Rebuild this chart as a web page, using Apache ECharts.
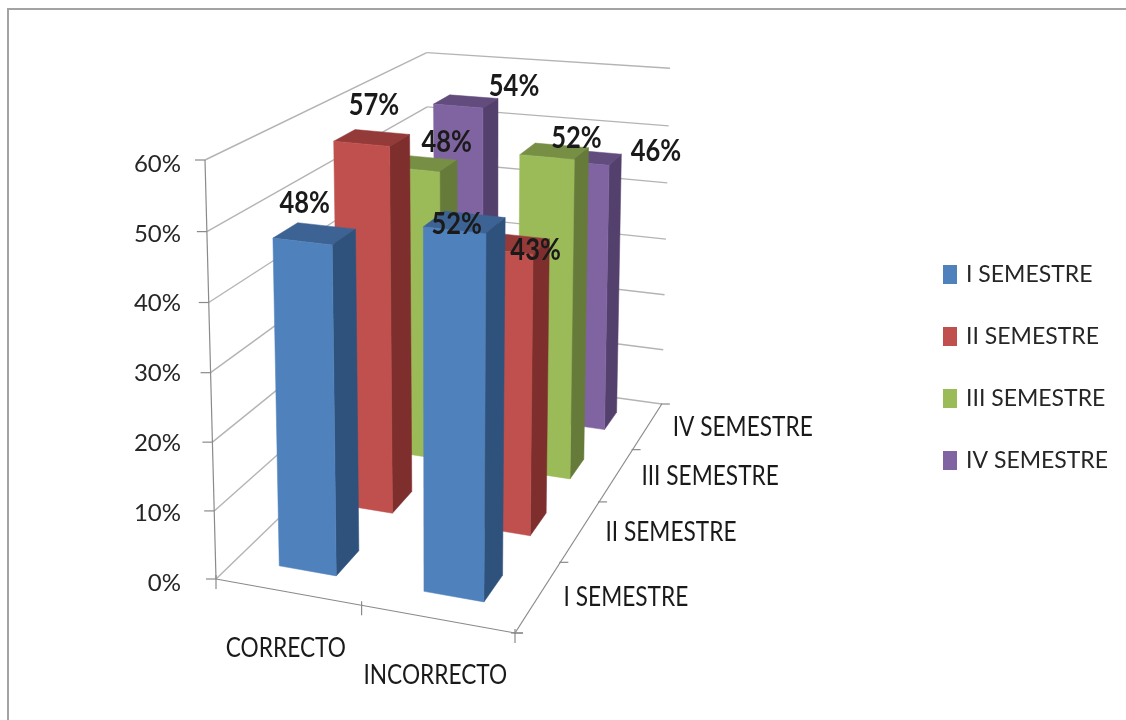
<!DOCTYPE html>
<html><head><meta charset="utf-8">
<style>html,body{margin:0;background:#fff}#main{width:1126px;height:720px;filter:blur(0.5px)}</style>
<script src="https://cdn.jsdelivr.net/npm/echarts@6/dist/echarts.min.js"></script>
</head><body><div id="main"></div>
<script>
// ---- data ----
const categories = ['CORRECTO', 'INCORRECTO'];
const semesters = ['I SEMESTRE', 'II SEMESTRE', 'III SEMESTRE', 'IV SEMESTRE'];
const semI = [48, 52];
const semII = [57, 43];
const semIII = [48, 52];
const semIV = [54, 46];
const valueTicks = [0, 10, 20, 30, 40, 50, 60];
const seriesValues = [semI, semII, semIII, semIV];

// ---- style ----
const palette = [
  {front:'#4F81BD', side:'#2F527C', top:'#3C6393'},
  {front:'#C0504D', side:'#7E2F2D', top:'#943B39'},
  {front:'#9BBB59', side:'#667B3A', top:'#778F44'},
  {front:'#8064A2', side:'#54406C', top:'#624C7D'}
];
const font = 'Lato,"Liberation Sans",sans-serif';
const labelNudge = [
  [[-10,-30],[-8,2]],
  [[2,-32],[23,7]],
  [[24,-21],[22,-13]],
  [[48,-15],[66,-6]]
];

// ---- perspective box: screen position of box corners and depth weights ----
const O=[216,579], PX=[515,633], PY=[205,160], PZ=[430,372];
const KX=0.949, KY=0.97, KZ=1.322;
function P(x,y,z){
  const w=1+x*(KX-1)+y*(KY-1)+z*(KZ-1);
  const f=i=>(O[i]+x*(KX*PX[i]-O[i])+y*(KY*PY[i]-O[i])+z*(KZ*PZ[i]-O[i]))/w;
  return [f(0)+6*x*y, f(1)-4*x*y*y*z];
}
const HX=0.1, HZ=0.048;
const xc=i=>(i+0.5)/categories.length, zc=i=>(i+0.5)/semesters.length;
function frac(api,v){
  const a=api.coord([0,0])[1], b=api.coord([0,60])[1];
  return (a-api.coord([0,v])[1])/(a-b);
}
const poly=(pts,color)=>({type:'polygon',shape:{points:pts},style:{fill:color,stroke:color,lineWidth:0.5}});
const line=(a,b,color,w)=>({type:'line',shape:{x1:a[0],y1:a[1],x2:b[0],y2:b[1]},style:{stroke:color,lineWidth:w,fill:null}});

function barSeries(name,d){
  return {
    name, type:'custom', coordinateSystem:'cartesian2d', z:5+semesters.length-d,
    itemStyle:{color:palette[d].front},
    data:seriesValues[d].map((v,i)=>[categories[i],v]),
    encode:{x:0,y:1},
    renderItem(params,api){
      const i=params.dataIndex, y=frac(api,api.value(1));
      const x0=xc(i)-HX,x1=xc(i)+HX,z0=zc(d)-HZ,z1=zc(d)+HZ;
      return {type:'group',children:[
        poly([P(x0,y,z0),P(x1,y,z0),P(x1,y,z1),P(x0,y,z1)],palette[d].top),
        poly([P(x1,0,z0),P(x1,0,z1),P(x1,y,z1),P(x1,y,z0)],palette[d].side),
        poly([P(x0,0,z0),P(x1,0,z0),P(x1,y,z0),P(x0,y,z0)],palette[d].front)
      ]};
    }
  };
}
const gridColor='#b4b4b4', axisColor='#8a8a8a';
const wallSeries={
  type:'custom', coordinateSystem:'cartesian2d', z:1, silent:true,
  data:valueTicks.map(v=>[categories[0],v]), encode:{x:0,y:1},
  renderItem(params,api){
    const y=frac(api,api.value(1));
    const a=P(0,y,0);
    return {type:'group',children:[
      line(a,P(0,y,1),gridColor,1.4),
      line(P(0,y,1),P(1,y,1),gridColor,1.4),
      line([a[0]-10,a[1]],a,axisColor,1.2)
    ]};
  }
};
const frameSeries={
  type:'custom', coordinateSystem:'cartesian2d', z:2, silent:true,
  data:[[categories[0],0]], encode:{x:0,y:1},
  renderItem(){
    const kids=[line(P(0,0,0),P(0,1,0),axisColor,1.2),line(P(0,0,0),P(1,0,0),axisColor,1.2),line(P(1,0,0),P(1,0,1),axisColor,1.2)];
    [0,0.5,1].forEach(t=>{const p=P(t,0,0);kids.push(line([p[0],p[1]-4],[p[0],p[1]+10],axisColor,1.2));});
    [0,0.25,0.5,0.75,1].forEach(t=>{const p=P(1,0,t);kids.push(line([p[0]-1,p[1]],[p[0]+8,p[1]],axisColor,1.2));});
    const o=P(1,0,0);kids.push(line([o[0]-4,o[1]],[o[0]+8,o[1]],axisColor,1.2));
    return {type:'group',children:kids};
  }
};
const textOf=(text,x,y,align,size,weight,scaleX)=>({type:'text',x,y,scaleX,scaleY:1,style:{text,x:0,y:0,fill:'#1a1a1a',align,verticalAlign:'middle',font:`${weight} ${size}px ${font}`}});
const axisTextSeries={
  type:'custom', coordinateSystem:'cartesian2d', z:3, silent:true,
  data:[[categories[0],0]], encode:{x:0,y:1},
  renderItem(){
    const kids=[];
    categories.forEach((c,i)=>{const p=P(xc(i),0,0);kids.push(textOf(c,p[0]-2,p[1]+56,'center',27,'normal',0.84));});
    semesters.forEach((s,i)=>{const p=P(1,0,zc(i));kids.push(textOf(s,p[0]+25,p[1]+1,'left',27,'normal',0.84));});
    return {type:'group',children:kids};
  }
};
const labelSeries={
  type:'custom', coordinateSystem:'cartesian2d', z:20, silent:true,
  data:semesters.flatMap((s,d)=>seriesValues[d].map((v,i)=>[categories[i],v,d,i])), encode:{x:0,y:1},
  renderItem(params,api){
    const v=api.value(1),d=api.value(2),i=api.value(3);
    const p=P(xc(i),frac(api,v),zc(d)), n=labelNudge[d][i];
    return textOf(v+'%',p[0]+n[0],p[1]+n[1],'center',30,'bold',0.85);
  }
};

const chart=echarts.init(document.getElementById('main'));
chart.setOption({
  animation:false, backgroundColor:'#fff',
  graphic:[
    {type:'rect',shape:{x:7,y:8,width:1119,height:2},style:{fill:'#a3a3a3'}},
    {type:'rect',shape:{x:7,y:8,width:2,height:712},style:{fill:'#a3a3a3'}}
  ],
  grid:{left:190,top:164,height:419,width:300},
  xAxis:{type:'category',data:categories,show:false},
  yAxis:{type:'value',min:0,max:60,interval:10,
    axisLine:{show:false},axisTick:{show:false},splitLine:{show:false},
    axisLabel:{formatter:'{value}%',margin:9,color:'#262626',fontFamily:font,fontSize:24}},
  legend:{data:semesters,orient:'vertical',left:938,top:258,icon:'rect',itemWidth:14,itemHeight:19,itemGap:39,selectedMode:false,
    textStyle:{color:'#262626',fontFamily:font,fontSize:23,padding:[0,0,0,4]}},
  series:[wallSeries,frameSeries,axisTextSeries,...semesters.map(barSeries),labelSeries]
});
</script></body></html>
